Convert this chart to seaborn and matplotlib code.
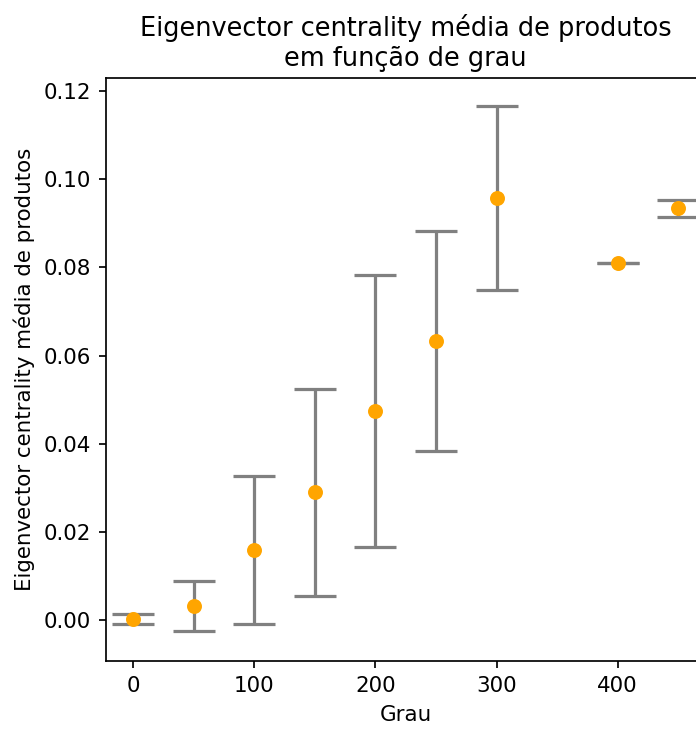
import matplotlib
matplotlib.use("Agg")
import matplotlib.pyplot as plt
import seaborn as sns
import pandas as pd

# Mean eigenvector centrality of products grouped by degree, with std deviation
grau = [0, 50, 100, 150, 200, 250, 300, 400, 450]
media = [0.0003, 0.0032, 0.0159, 0.0290, 0.0474, 0.0633, 0.0957, 0.0811, 0.0934]
desvio = [0.0011, 0.0056, 0.0168, 0.0235, 0.0308, 0.0249, 0.0209, 0.0000, 0.0020]

df = pd.DataFrame({"grau": grau, "media": media, "desvio": desvio})

k = 1.283  # size scale relative to default point sizes
plt.rcParams.update({
    "font.size": 10 * k,
    "axes.linewidth": 0.8 * k,
    "xtick.major.size": 3.5 * k,
    "ytick.major.size": 3.5 * k,
    "xtick.major.width": 0.8 * k,
    "ytick.major.width": 0.8 * k,
    "xtick.major.pad": 3.5 * k,
    "ytick.major.pad": 3.5 * k,
    "axes.titlepad": 6 * k,
    "axes.labelpad": 4 * k,
})

fig = plt.figure(figsize=(5.8, 6.075), dpi=120)
ax = fig.add_axes([0.1523, 0.0933, 0.8614, 0.7992])

ax.errorbar(df["grau"], df["media"], yerr=df["desvio"], fmt="none",
            ecolor="gray", elinewidth=1.5 * k, capsize=10 * k,
            capthick=1.5 * k, zorder=2)
sns.scatterplot(data=df, x="grau", y="media", color="orange",
                s=(7 * k) ** 2, linewidth=0, ax=ax, zorder=3)

ax.set_title("Eigenvector centrality média de produtos\nem função de grau",
             fontsize=12 * k)
ax.set_xlabel("Grau")
ax.set_ylabel("Eigenvector centrality média de produtos")
ax.set_xticks([0, 100, 200, 300, 400])
ax.set_xlim(-22.5, 472.5)
ax.set_ylim(-0.0093, 0.1229)

fig.savefig("out.png", dpi=120)
